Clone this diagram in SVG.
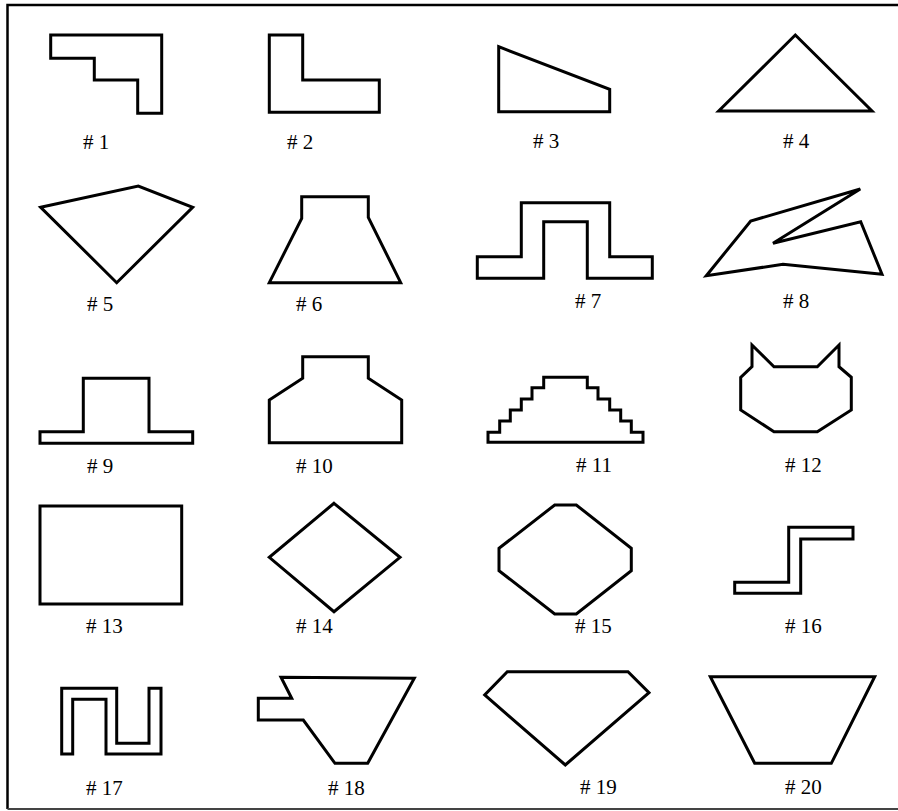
<svg xmlns="http://www.w3.org/2000/svg" width="898" height="811" viewBox="0 0 898 811">
<style>
.s{fill:none;stroke:#000;stroke-width:3;stroke-linejoin:miter}
.t{font-family:"Liberation Serif","Times New Roman",serif;font-size:21px;fill:#000}
</style>
<rect width="898" height="811" fill="#fff"/>
<g id="frame">
<path d="M898,5 H7.5 V809" fill="none" stroke="#000" stroke-width="2.5"/>
<path d="M7.5,809 H898" fill="none" stroke="#444" stroke-width="2"/>
</g>
<g id="shape1"><polygon class="s" points="50.7,35 161.7,35 161.7,113.3 137.7,113.3 137.7,80 94.3,80 94.3,58.3 50.7,58.3"/><text class="t" x="83" y="149"># 1</text></g>
<g id="shape2"><polygon class="s" points="269.3,35 302.7,35 302.7,80 379.3,80 379.3,112.3 269.3,112.3"/><text class="t" x="287" y="149"># 2</text></g>
<g id="shape3"><polygon class="s" points="498.7,46.7 609.7,89.3 609.7,111.7 498.7,111.7"/><text class="t" x="533" y="148"># 3</text></g>
<g id="shape4"><polygon class="s" points="795.3,35 872,111 718.7,111"/><text class="t" x="783" y="148"># 4</text></g>
<g id="shape5"><polygon class="s" points="40.7,207.3 138.3,186 192.7,207.3 116.7,282.7"/><text class="t" x="87" y="311"># 5</text></g>
<g id="shape6"><polygon class="s" points="301.7,196.7 368.3,196.7 368.3,217.3 400.7,282.7 269.3,282.7 301.7,218.3"/><text class="t" x="296" y="311"># 6</text></g>
<g id="shape7"><polygon class="s" points="477.3,256.7 521.3,256.7 521.3,202.7 609.7,202.7 609.7,256.7 652.3,256.7 652.3,278.3 587.3,278.3 587.3,221.7 543.7,221.7 543.7,278.3 477.3,278.3"/><text class="t" x="575" y="308"># 7</text></g>
<g id="shape8"><polygon class="s" points="706.3,275.7 750.7,221 860.3,189 773,243.3 860.7,221.7 882,274.3 783,264.3"/><text class="t" x="783" y="308"># 8</text></g>
<g id="shape9"><polygon class="s" points="40,431.7 83.3,431.7 83.3,378.3 149,378.3 149,431.7 192.7,431.7 192.7,443.3 40,443.3"/><text class="t" x="87" y="473"># 9</text></g>
<g id="shape10"><polygon class="s" points="269.3,400 302.7,378.3 302.7,356.7 368.3,356.7 368.3,378.3 401.7,400 401.7,442.7 269.3,442.7"/><text class="t" x="296" y="473"># 10</text></g>
<g id="shape11"><polygon class="s" points="488,442.3 643,442.3 643,432.3 631.3,432.3 631.3,421 620.7,421 620.7,410 609.7,410 609.7,399 598,399 598,387.7 587.3,387.7 587.3,377.3 543.7,377.3 543.7,387.7 532,387.7 532,399 521.3,399 521.3,410 510.3,410 510.3,421 499.7,421 499.7,432.3 488,432.3"/><text class="t" x="576" y="472"># 11</text></g>
<g id="shape12"><polygon class="s" points="752,345 774,366.7 817.3,366.7 839,345 839,366.7 851.3,377.3 851.3,410 817.3,431.7 774,431.7 740.7,410 740.7,377.3 752,366.7"/><text class="t" x="785" y="472"># 12</text></g>
<g id="shape13"><polygon class="s" points="40,506 181.7,506 181.7,604 40,604"/><text class="t" x="86" y="633"># 13</text></g>
<g id="shape14"><polygon class="s" points="334,503.3 400,557.3 334,611.7 269.3,557.3"/><text class="t" x="296" y="633"># 14</text></g>
<g id="shape15"><polygon class="s" points="554.7,505 576.3,505 631.3,548.3 631.3,570.7 576.3,614 554.7,614 499,570.7 499,548.3"/><text class="t" x="575" y="633"># 15</text></g>
<g id="shape16"><polygon class="s" points="734.7,582.3 788.7,582.3 788.7,527.3 853,527.3 853,539 800.7,539 800.7,593.3 734.7,593.3"/><text class="t" x="785" y="633"># 16</text></g>
<g id="shape17"><polygon class="s" points="61.7,688.3 116.7,688.3 116.7,743.3 149,743.3 149,688.3 161,688.3 161,754 106,754 106,699.3 72.7,699.3 72.7,754 61.7,754"/><text class="t" x="86" y="795"># 17</text></g>
<g id="shape18"><polygon class="s" points="281,677.3 414.3,678.3 367.7,763.3 335,763.3 303.3,720 258.3,720 258.3,698.3 291.7,698.3"/><text class="t" x="328" y="795"># 18</text></g>
<g id="shape19"><polygon class="s" points="507.3,671.7 628,671.7 649,692.7 565.3,765 484.7,695"/><text class="t" x="580" y="794"># 19</text></g>
<g id="shape20"><polygon class="s" points="710.3,676.7 874.7,676.7 831.3,763.3 754.7,763.3"/><text class="t" x="785" y="794"># 20</text></g>
<g id="connectors"/>
</svg>
